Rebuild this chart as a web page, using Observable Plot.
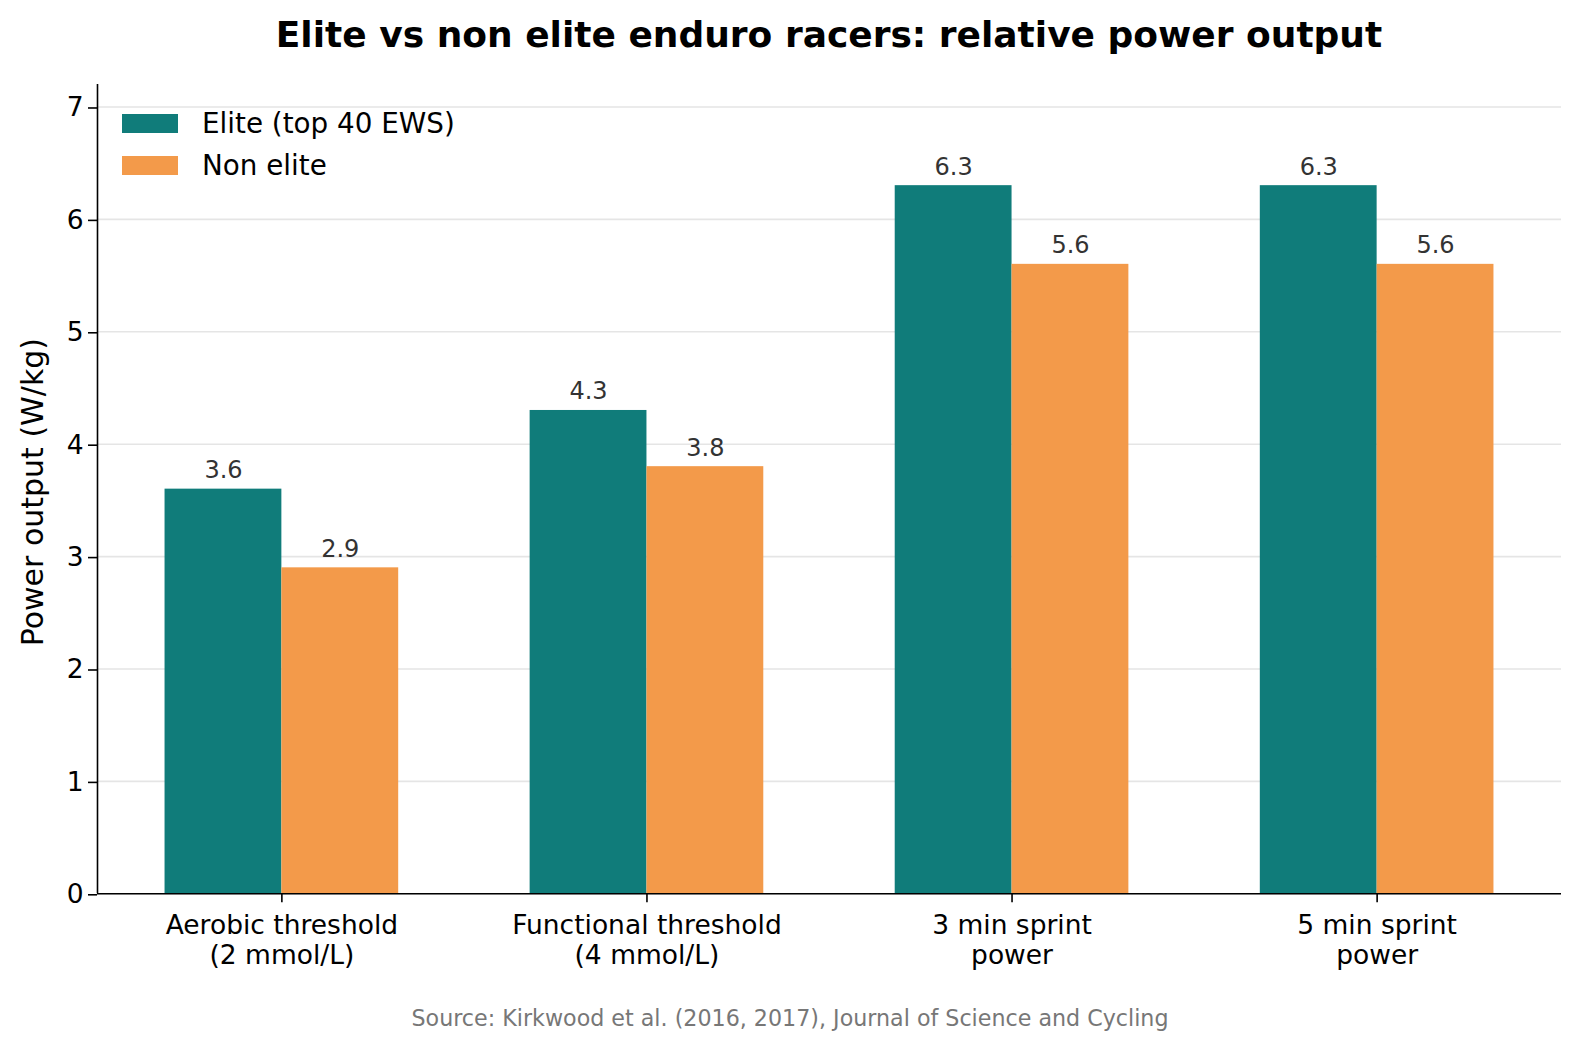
<!DOCTYPE html>
<html>
<head>
<meta charset="utf-8">
<script src="https://cdn.jsdelivr.net/npm/d3@7"></script>
<script src="https://cdn.jsdelivr.net/npm/@observablehq/plot@0.6"></script>
<style>
  html, body { margin: 0; padding: 0; background: #fff; }
  body { width: 1580px; height: 1048px; position: relative; overflow: hidden; font-family: "DejaVu Sans", sans-serif; color: #000; }
  #title { position: absolute; left: 97px; width: 1464px; top: 16.8px; font-size: 36px; line-height: 36px; font-weight: bold; text-align: center; white-space: nowrap; }
  #chart { position: absolute; left: 0; top: 70px; }
  #legend { position: absolute; left: 122px; top: 102.5px; }
  .item { display: flex; align-items: center; height: 42px; font-size: 27.8px; }
  .sw { width: 56px; height: 19px; margin-right: 24px; }
  #source { position: absolute; left: 0; width: 1580px; top: 1006.5px; font-size: 22.2px; line-height: 22.2px; color: #777; text-align: center; white-space: nowrap; }
</style>
</head>
<body>
<div id="title"></div>
<div id="chart"></div>
<div id="legend"></div>
<div id="source"></div>
<script>
// ---- data ----
const titleText = "Elite vs non elite enduro racers: relative power output";
const sourceText = "Source: Kirkwood et al. (2016, 2017), Journal of Science and Cycling";
const yLabel = "Power output (W/kg)";
const categories = [
  "Aerobic threshold\n(2 mmol/L)",
  "Functional threshold\n(4 mmol/L)",
  "3 min sprint\npower",
  "5 min sprint\npower"
];
const series = ["Elite (top 40 EWS)", "Non elite"];
const elite = [3.6, 4.3, 6.3, 6.3];
const nonElite = [2.9, 3.8, 5.6, 5.6];
const yTicks = [0, 1, 2, 3, 4, 5, 6, 7];
const colors = ["#107C7A", "#F39A4A"];

// ---- layout constants ----
const barWidth = 0.32;
const xDomain = [-0.505, categories.length - 1 + 0.505];
const yDomain = [0, 7.2];

const rows = categories.flatMap((c, i) => [
  {i, series: series[0], value: elite[i]},
  {i, series: series[1], value: nonElite[i]}
]);
const isFirst = d => d.series === series[0];

document.getElementById("title").textContent = titleText;
document.getElementById("source").textContent = sourceText;

const chart = Plot.plot({
  width: 1580,
  height: 915,
  marginLeft: 97,
  marginRight: 19,
  marginTop: 14,
  marginBottom: 91.7,
  style: {fontFamily: "DejaVu Sans", fontSize: "26px", color: "#000", background: "#fff"},
  x: {type: "linear", domain: xDomain},
  y: {domain: yDomain},
  color: {domain: series, range: colors},
  marks: [
    Plot.gridY(yTicks, {stroke: "#e5e5e5", strokeOpacity: 1, strokeWidth: 1.6}),
    Plot.rectY(rows, {
      x1: d => d.i + (isFirst(d) ? -barWidth : 0),
      x2: d => d.i + (isFirst(d) ? 0 : barWidth),
      y1: 0,
      y2: "value",
      fill: "series"
    }),
    Plot.text(rows, {
      x: d => d.i + (isFirst(d) ? -barWidth / 2 : barWidth / 2),
      y: "value",
      text: d => d.value.toFixed(1),
      lineAnchor: "bottom",
      dy: -11,
      fontSize: 24,
      fill: "#333"
    }),
    Plot.ruleY([yDomain[0]], {stroke: "#000", strokeWidth: 1.6}),
    Plot.ruleX([xDomain[0]], {stroke: "#000", strokeWidth: 1.6}),
    Plot.axisY(yTicks, {tickSize: 9, tickPadding: 5, strokeWidth: 1.6, label: null, fontSize: 26.5, dy: 1, tickFormat: d => String(d)}),
    Plot.axisX(categories.map((c, i) => i), {
      tickSize: 9, tickPadding: 10, strokeWidth: 1.6, label: null,
      tickFormat: i => categories[i], fontSize: 26.5, lineHeight: 1.13
    }),
    Plot.text([yLabel], {frameAnchor: "left", rotate: -90, lineAnchor: "bottom", textAnchor: "middle", dx: -54.4, dy: 3, fontSize: 30, text: d => d})
  ]
});
document.getElementById("chart").appendChild(chart);

const legend = document.getElementById("legend");
series.forEach((s, k) => {
  const item = document.createElement("div");
  item.className = "item";
  const sw = document.createElement("div");
  sw.className = "sw";
  sw.style.background = colors[k];
  const label = document.createElement("span");
  label.textContent = s;
  item.appendChild(sw);
  item.appendChild(label);
  legend.appendChild(item);
});
</script>
</body>
</html>
